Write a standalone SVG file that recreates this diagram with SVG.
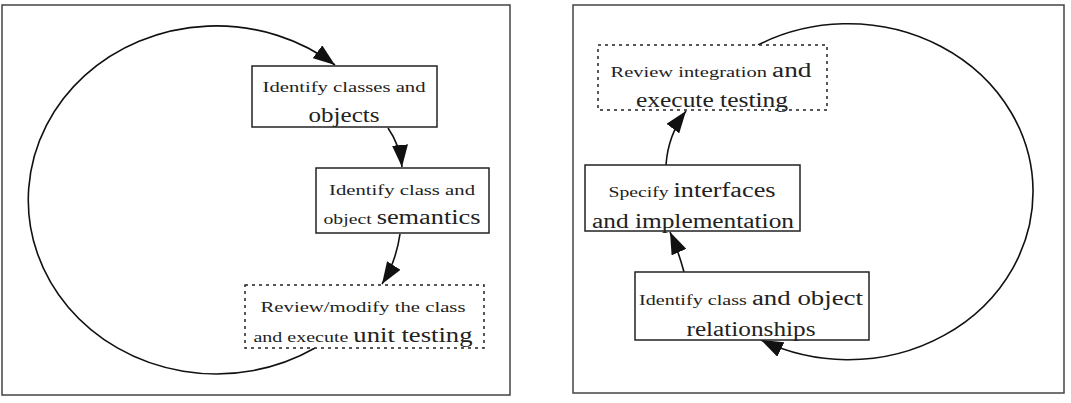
<svg xmlns="http://www.w3.org/2000/svg" width="1071" height="403" viewBox="0 0 1071 403">
<style>
.frame{fill:none;stroke:#444;stroke-width:1.5}
.box{fill:#fff;stroke:#222;stroke-width:1.5}
.dash{fill:#fff;stroke:#222;stroke-width:1.5;stroke-dasharray:3 4}
.c{fill:none;stroke:#111;stroke-width:1.6;marker-end:url(#ah)}
text{fill:#222;text-anchor:middle}
.s{font-size:15px}.l{font-size:20px}
</style>
<defs><marker id="ah" markerUnits="userSpaceOnUse" markerWidth="24" markerHeight="16" refX="22" refY="8" orient="auto"><path d="M0,0 L22,8 L0,16 z" fill="#111"/></marker></defs>
<rect class="frame" x="2" y="5" width="508" height="390"/>
<rect class="frame" x="573" y="5" width="491" height="388"/>
<g id="connectors">
<path class="c" d="M315,348 A188,174 0 1 1 335,65"/>
<path class="c" d="M388,128 Q400,145 402,167"/>
<path class="c" d="M400,234 Q396,262 382,284"/>
<path class="c" d="M758,45 A185,168 0 1 1 761,340"/>
<path class="c" d="M684,272 Q678,250 670,232"/>
<path class="c" d="M666,165 Q668,135 686,111"/>
</g>
<g font-family="'Liberation Serif','Times New Roman','DejaVu Serif',serif" lengthAdjust="spacingAndGlyphs">
<g id="n1"><rect class="box" x="252" y="66" width="185" height="61"/>
<text x="344" y="92" class="s" textLength="163" lengthAdjust="spacingAndGlyphs">Identify classes and</text><text x="344" y="122" class="l" textLength="71" lengthAdjust="spacingAndGlyphs">objects</text></g>
<g id="n2"><rect class="box" x="316" y="168" width="173" height="65"/>
<text x="402" y="195" class="s" textLength="146" lengthAdjust="spacingAndGlyphs">Identify class and</text><text x="402" y="224" textLength="157" lengthAdjust="spacingAndGlyphs"><tspan class="s">object </tspan><tspan class="l">semantics</tspan></text></g>
<g id="n3"><rect class="dash" x="245" y="285" width="239" height="63"/>
<text x="363" y="312" class="s" textLength="205" lengthAdjust="spacingAndGlyphs">Review/modify the class</text><text x="363" y="342" textLength="219" lengthAdjust="spacingAndGlyphs"><tspan class="s">and execute </tspan><tspan class="l">unit testing</tspan></text></g>
<g id="n4"><rect class="dash" x="598" y="45" width="229" height="65"/>
<text x="711" y="77" textLength="201" lengthAdjust="spacingAndGlyphs"><tspan class="s">Review integration </tspan><tspan class="l">and</tspan></text><text x="712" y="107" class="l" textLength="152" lengthAdjust="spacingAndGlyphs">execute testing</text></g>
<g id="n5"><rect class="box" x="585" y="165" width="215" height="66"/>
<text x="692" y="197" textLength="167" lengthAdjust="spacingAndGlyphs"><tspan class="s">Specify </tspan><tspan class="l">interfaces</tspan></text><text x="693" y="228" class="l" textLength="202" lengthAdjust="spacingAndGlyphs">and implementation</text></g>
<g id="n6"><rect class="box" x="635" y="272" width="234" height="68"/>
<text x="751" y="305" textLength="224" lengthAdjust="spacingAndGlyphs"><tspan class="s">Identify class </tspan><tspan class="l">and object</tspan></text><text x="751" y="336" class="l" textLength="129" lengthAdjust="spacingAndGlyphs">relationships</text></g>
</g>
</svg>
